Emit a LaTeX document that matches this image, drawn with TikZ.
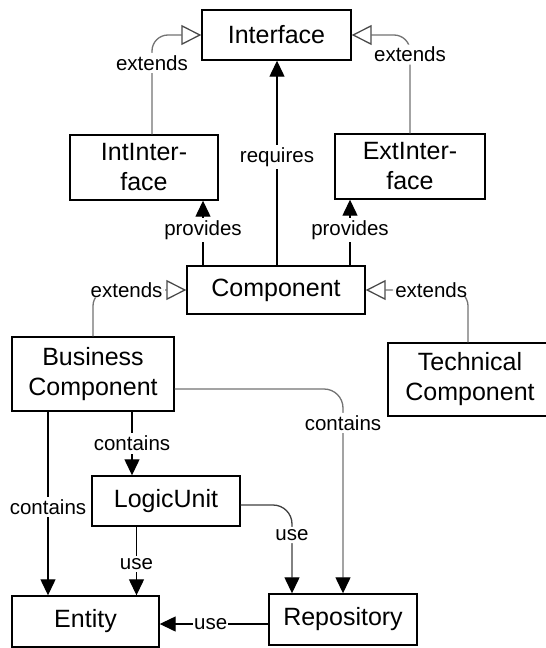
\documentclass[tikz,border=0pt]{standalone}
\usepackage{fontspec}
\setmainfont{Liberation Sans}
\usetikzlibrary{arrows.meta}
\begin{document}
\begin{tikzpicture}[x=1pt,y=-1pt,
  box/.style={draw, line width=1.4pt, inner sep=0pt, align=center,
    font=\fontsize{25}{30}\selectfont},
  lbl/.style={fill=white, inner sep=2.5pt, font=\fontsize{20.5}{22}\selectfont},
  dep/.style={draw=black, line width=1.3pt, -{Triangle[length=16pt,width=15pt]}},
  dep2/.style={draw=black!75, line width=1.3pt,
    -{Triangle[length=16pt,width=15pt,fill=black,color=black]}},
  inh/.style={draw=black!55, line width=1.3pt,
    -{Triangle[open,length=20pt,width=20pt,color=black!70]}, rounded corners=16pt},
  cont/.style={draw=black!55, line width=1.3pt, rounded corners=19pt,
    -{Triangle[length=16pt,width=15pt,fill=black,color=black]}}]
\useasboundingbox (0,0) rectangle (546,648);
\fill[white] (0,0) rectangle (546,648);

% classes
\node[box, minimum width=149pt, minimum height=50pt] (iface) at (276.5,35) {Interface};
\node[box, minimum width=148pt, minimum height=65pt] (intif) at (144,167.5) {IntInter-\\face};
\node[box, minimum width=150pt, minimum height=65pt] (extif) at (410,166.5) {ExtInter-\\face};
\node[box, minimum width=178pt, minimum height=48pt] (comp) at (276,290) {Component};
\node[box, minimum width=162pt, minimum height=74pt] (bc) at (93,374) {Business\\Component};
\node[box, minimum width=164pt, minimum height=73pt] (tc) at (470,379.5) {Technical\\Component};
\node[box, minimum width=148pt, minimum height=50pt] (lu) at (166,501) {LogicUnit};
\node[box, minimum width=147pt, minimum height=51pt] (ent) at (85.5,621.5) {Entity};
\node[box, minimum width=148pt, minimum height=51pt] (repo) at (343,619.5) {Repository};

% generalisations
\draw[inh] ([xshift=8pt]intif.north) |- node[lbl, pos=0.36] {extends} (iface.west);
\draw[inh] (extif.north) |- node[lbl, pos=0.4] {extends} (iface.east);
\draw[inh] (bc.north) |- node[lbl, pos=0.68] {extends} (comp.west);
\draw[inh] ([xshift=-2pt]tc.north) |- node[lbl, pos=0.68] {extends} (comp.east);

% requires / provides
\draw[dep] ([xshift=1pt]comp.north) -- node[lbl, pos=0.53] {requires} ([xshift=1pt]comp.north |- iface.south);
\draw[dep] ([xshift=-73pt]comp.north) -- node[lbl, pos=0.55] {provides} ([xshift=-73pt]comp.north |- intif.south);
\draw[dep] ([xshift=74pt]comp.north) -- node[lbl, pos=0.54] {provides} ([xshift=74pt]comp.north |- extif.south);

% containment
\draw[dep] ([xshift=-45pt]bc.south) -- node[lbl, pos=0.52] {contains} ([xshift=-45pt]bc.south |- ent.north);
\draw[dep] ([xshift=39pt]bc.south) -- node[lbl, pos=0.5] {contains} ([xshift=39pt]bc.south |- lu.north);
\draw[cont] ([yshift=-15pt]bc.east) -| node[lbl, pos=0.583] {contains} (repo.north);

% usage
\draw[dep] ([xshift=-29.5pt]lu.south) -- node[lbl, pos=0.54] {use} ([xshift=-29.5pt]lu.south |- ent.north);
\draw[dep2, rounded corners=19pt] ([yshift=-4pt]lu.east) -| node[lbl, pos=0.67] {use} ([xshift=-51pt]repo.north);
\draw[dep] ([yshift=-4.5pt]repo.west) -- node[lbl, pos=0.53, inner sep=1pt] {use} ([yshift=-4.5pt]repo.west -| ent.east);
\end{tikzpicture}
\end{document}
